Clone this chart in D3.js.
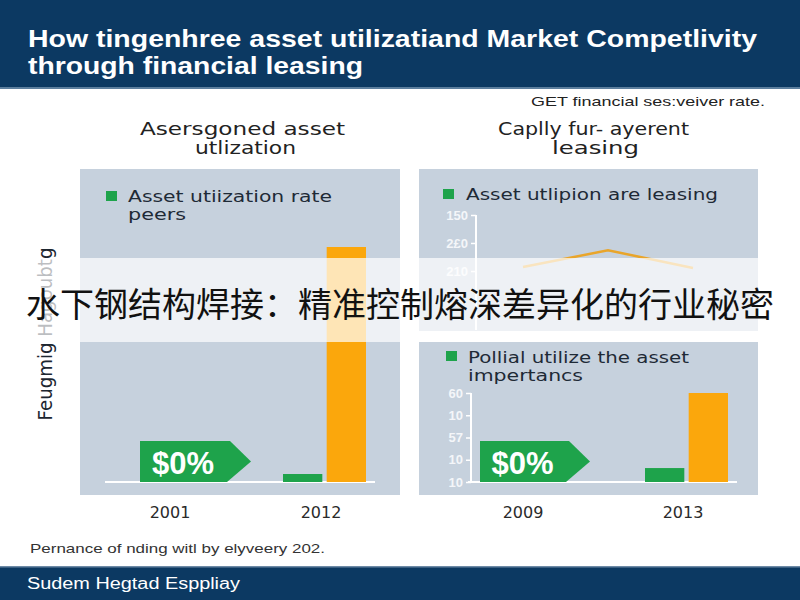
<!DOCTYPE html>
<html><head><meta charset="utf-8">
<script src="https://cdn.jsdelivr.net/npm/d3@7"></script>
<style>
html,body{margin:0;padding:0;background:#fff;}
</style></head>
<body>
<svg id="c" width="800" height="600"></svg>
<script>
// ---------- data ----------
const titleLines = ["How tingenhree asset utilizatiand Market Competlivity", "through financial leasing"];
const topNote = "GET financial ses:veiver rate.";
const leftTitle = ["Asersgoned asset", "utlization"];
const rightTitle = ["Caplly fur- ayerent", "leasing"];
const leftLegend = ["Asset utiization rate", "peers"];
const rightTopLegend = ["Asset utlipion are leasing"];
const rightBottomLegend = ["Pollial utilize the asset", "impertancs"];
const yAxisLabel = "Feugmig Hagoubtg";
const footNote = "Pernance of nding witl by elyveery 202.";
const footerText = "Sudem Hegtad Esppliay";
const watermark = "水下钢结构焊接：精准控制熔深差异化的行业秘密";

const leftCategories = ["2001", "2012"];
const leftGreen = [0, 3.4];
const leftOrange = [0, 100];
const leftCallout = {category: "2001", label: "$0%", value: 17.5};

const lineCategories = ["p1", "p2", "p3"];
const lineValues = [38, 58, 37];
const lineTickValues = [100, 66.7, 33.3];
const lineTickLabels = ["150", "2£0", "210"];

const rbCategories = ["2009", "2013"];
const rbGreen = [0, 9.4];
const rbOrange = [0, 60];
const rbCallout = {category: "2009", label: "$0%", value: 27.6};
const rbTickValues = [60, 45, 30, 15, 0];
const rbTickLabels = ["60", "10", "57", "10", "10"];

// ---------- styles ----------
const NAVY = "#0c3962", PANEL = "#c6d1dd", GREEN = "#1ea34b", ORANGE = "#fba70c", TXT = "#1e2a36";
const SANS = "'DejaVu Sans', 'Liberation Sans', Arial, sans-serif";
const HF = "'Liberation Sans', Arial, sans-serif";
const svg = d3.select("#c");

function txt(g, s, x, y, o) {
  const t = g.append("text").attr("x", x).attr("y", y)
    .attr("text-anchor", o.anchor || "start").attr("font-size", o.size)
    .attr("fill", o.fill || TXT).attr("font-weight", o.weight || "normal")
    .style("font-family", o.family || SANS).text(s);
  if (o.w) t.attr("textLength", o.w).attr("lengthAdjust", "spacingAndGlyphs");
  return t;
}

// header
svg.append("rect").attr("x",0).attr("y",0).attr("width",800).attr("height",88).attr("fill",NAVY);
svg.append("rect").attr("x",0).attr("y",87).attr("width",800).attr("height",2).attr("fill","#5d7f9e");
txt(svg, titleLines[0], 28, 47, {size:24, weight:"bold", fill:"#fff", family:HF, w:729});
txt(svg, titleLines[1], 28, 74, {size:24, weight:"bold", fill:"#fff", family:HF, w:335});

txt(svg, topNote, 531, 106, {size:13, fill:"#222", w:234, family:HF});

txt(svg, leftTitle[0], 140, 135, {size:18, fill:"#222", w:205});
txt(svg, leftTitle[1], 195, 154, {size:18, fill:"#222", w:101});
txt(svg, rightTitle[0], 498, 135, {size:18, fill:"#222", w:191});
txt(svg, rightTitle[1], 552, 154, {size:18, fill:"#222", w:87});

// panels
svg.append("rect").attr("x",80).attr("y",169).attr("width",320).attr("height",326).attr("fill",PANEL);
svg.append("rect").attr("x",419).attr("y",169).attr("width",339).attr("height",162).attr("fill",PANEL);
svg.append("rect").attr("x",419).attr("y",342).attr("width",339).attr("height",153).attr("fill",PANEL);

// legends
function sq(x, y) {
  svg.append("rect").attr("x",x).attr("y",y-11).attr("width",11).attr("height",10).attr("fill",GREEN);
}
sq(106, 202);
txt(svg, leftLegend[0], 128, 202, {size:16, w:204});
txt(svg, leftLegend[1], 128, 220, {size:16, w:58});
sq(443, 200);
txt(svg, rightTopLegend[0], 466, 200, {size:16, w:252});
sq(446, 362);
txt(svg, rightBottomLegend[0], 468, 363, {size:16, w:221});
txt(svg, rightBottomLegend[1], 468, 381, {size:16, w:115});

// y axis label (left)
svg.append("text").attr("transform","translate(52,334) rotate(-90)")
  .attr("text-anchor","middle").attr("font-size",19).attr("fill","#1d2630")
  .style("font-family", SANS)
  .attr("textLength",173).attr("lengthAdjust","spacingAndGlyphs").text(yAxisLabel);

// callout shape
function callout(g, cx, base, top, x0off, x1off, tip, label, fs) {
  const x0 = cx + x0off, x1 = cx + x1off, mid = (base + top) / 2;
  g.append("path").attr("d", d3.line()([[x0,top],[x1,top],[x1+tip,mid],[x1-3,base],[x0,base]])).attr("fill",GREEN);
  g.append("text").attr("x",(x0+x1)/2 - 2).attr("y",base-8).attr("text-anchor","middle")
    .style("font-family", HF)
    .attr("font-size",fs).attr("font-weight","bold").attr("fill","#fff").text(label);
}

function styleAxis(ax) {
  ax.select(".domain").remove();
  ax.selectAll("line").attr("stroke","#fff").attr("stroke-width",1.5);
  ax.selectAll("text").attr("fill","#f4f6f9").attr("font-size",13).attr("font-weight","bold")
    .style("font-family", HF);
}

// ---------- left bar chart ----------
(function(){
  const g = svg.append("g");
  const x = d3.scalePoint().domain(leftCategories).range([170, 321]);
  const y = d3.scaleLinear().domain([0, 100]).range([482, 247]);
  const sub = d3.scaleBand().domain(["green","orange"]).range([-38, 45]).paddingInner(0.1);
  g.append("line").attr("x1",105).attr("x2",375).attr("y1",y(0)).attr("y2",y(0)).attr("stroke","#fff").attr("stroke-width",2);
  const rows = leftCategories.map((c,i)=>({c, green:leftGreen[i], orange:leftOrange[i]}));
  rows.forEach(r=>{
    [["green",GREEN],["orange",ORANGE]].forEach(([k,col])=>{
      if (r[k] > 0) g.append("rect").attr("x",x(r.c)+sub(k)).attr("width",sub.bandwidth())
        .attr("y",y(r[k])).attr("height",y(0)-y(r[k])).attr("fill",col);
    });
  });
  callout(g, x(leftCallout.category), y(0), y(leftCallout.value), -30, 60, 21, leftCallout.label, 31);
  g.selectAll("text.xl").data(leftCategories).join("text").attr("class","xl")
    .attr("x",d=>x(d)).attr("y",518).attr("text-anchor","middle").attr("font-size",16)
    .style("font-family", SANS).attr("fill","#2a2a2a").text(d=>d);
})();

// ---------- right top line chart ----------
(function(){
  const g = svg.append("g");
  const x = d3.scalePoint().domain(lineCategories).range([523, 693]);
  const y = d3.scaleLinear().domain([0, 100]).range([299, 215]);
  const ax = g.append("g").attr("transform","translate(476,0)")
    .call(d3.axisLeft(y).tickValues(lineTickValues).tickSize(5).tickFormat((d,i)=>lineTickLabels[i]));
  styleAxis(ax);
  g.append("line").attr("x1",476).attr("x2",476).attr("y1",y(100)).attr("y2",330).attr("stroke","#fff").attr("stroke-width",2);
  g.append("path").datum(lineValues).attr("fill","none").attr("stroke","#e9a52a").attr("stroke-width",2.5)
    .attr("d", d3.line().x((d,i)=>x(lineCategories[i])).y(d=>y(d)));
})();

// ---------- right bottom bar chart ----------
(function(){
  const g = svg.append("g");
  const x = d3.scalePoint().domain(rbCategories).range([523, 683]);
  const y = d3.scaleLinear().domain([0, 60]).range([482, 393]);
  const sub = d3.scaleBand().domain(["green","orange"]).range([-38, 45]).paddingInner(0.1);
  const ax = g.append("g").attr("transform","translate(471,0)")
    .call(d3.axisLeft(y).tickValues(rbTickValues).tickSize(5).tickFormat((d,i)=>rbTickLabels[i]));
  styleAxis(ax);
  g.append("line").attr("x1",471).attr("x2",471).attr("y1",y(60)).attr("y2",y(0)).attr("stroke","#fff").attr("stroke-width",2);
  g.append("line").attr("x1",468).attr("x2",737).attr("y1",y(0)).attr("y2",y(0)).attr("stroke","#fff").attr("stroke-width",2);
  const rows = rbCategories.map((c,i)=>({c, green:rbGreen[i], orange:rbOrange[i]}));
  rows.forEach(r=>{
    [["green",GREEN],["orange",ORANGE]].forEach(([k,col])=>{
      if (r[k] > 0) g.append("rect").attr("x",x(r.c)+sub(k)).attr("width",sub.bandwidth())
        .attr("y",y(r[k])).attr("height",y(0)-y(r[k])).attr("fill",col);
    });
  });
  callout(g, x(rbCallout.category), y(0), y(rbCallout.value), -43, 46, 21, rbCallout.label, 31);
  g.selectAll("text.xl").data(rbCategories).join("text").attr("class","xl")
    .attr("x",d=>x(d)).attr("y",518).attr("text-anchor","middle").attr("font-size",16)
    .style("font-family", SANS).attr("fill","#2a2a2a").text(d=>d);
})();

// footer
txt(svg, footNote, 30, 553, {size:13, fill:"#333", w:295, family:HF});
svg.append("rect").attr("x",0).attr("y",566).attr("width",800).attr("height",34).attr("fill",NAVY);
svg.append("rect").attr("x",0).attr("y",566).attr("width",800).attr("height",1.5).attr("fill","#6d8aa6");
txt(svg, footerText, 27, 589, {size:16, fill:"#fff", w:213, family:HF});

// watermark band
svg.append("rect").attr("x",0).attr("y",258).attr("width",800).attr("height",84).attr("fill","#fff").attr("opacity",0.7);
svg.append("text").attr("x",400).attr("y",317).attr("text-anchor","middle")
  .style("font-family","'Noto Sans CJK SC', sans-serif").attr("font-size",34).attr("fill","#111").text(watermark);
</script>
</body></html>
